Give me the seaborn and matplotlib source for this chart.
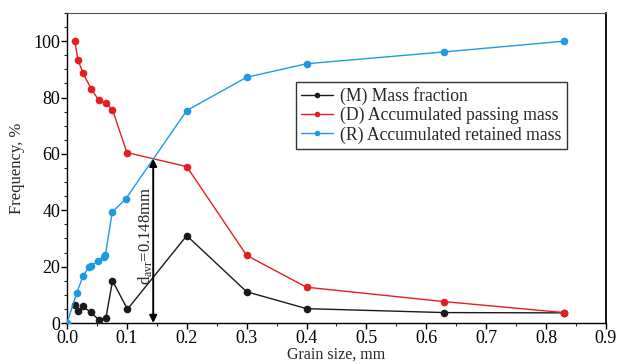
import matplotlib
matplotlib.use("Agg")
import matplotlib.pyplot as plt
import seaborn as sns
import pandas as pd
from matplotlib.ticker import MultipleLocator

# ---- data ----
x_mass = [0.0133, 0.018, 0.027, 0.0395, 0.053, 0.065, 0.076, 0.101, 0.2, 0.3, 0.4, 0.63, 0.83]
y_mass = [6.4, 4.3, 5.9, 3.8, 1.2, 1.8, 15.0, 4.9, 31.0, 11.1, 5.1, 3.7, 3.6]

x_pass = [0.0133, 0.018, 0.027, 0.0406, 0.053, 0.065, 0.076, 0.1, 0.2, 0.3, 0.4, 0.63, 0.83]
y_pass = [100.0, 93.5, 88.6, 83.0, 79.1, 78.0, 75.7, 60.5, 55.5, 24.0, 12.7, 7.6, 3.7]

x_ret = [0.0, 0.016, 0.027, 0.037, 0.040, 0.051, 0.062, 0.064, 0.0756, 0.098, 0.2, 0.3, 0.4, 0.63, 0.83]
y_ret = [0.0, 10.5, 16.8, 19.9, 20.4, 21.9, 23.5, 24.0, 39.4, 44.0, 75.4, 87.2, 92.0, 96.2, 100.0]

series_names = ["(M) Mass fraction", "(D) Accumulated passing mass", "(R) Accumulated retained mass"]
colors = ["#1c1a1a", "#e3201f", "#1d9be2"]
d_avr = 0.144  # arrow position (intersection of D and R)
d_top = 58.3
x_ticks = [0.0, 0.1, 0.2, 0.3, 0.4, 0.5, 0.6, 0.7, 0.8, 0.9]
y_ticks = [0, 20, 40, 60, 80, 100]

df = pd.concat([
    pd.DataFrame({"x": x_mass, "y": y_mass, "s": series_names[0]}),
    pd.DataFrame({"x": x_pass, "y": y_pass, "s": series_names[1]}),
    pd.DataFrame({"x": x_ret, "y": y_ret, "s": series_names[2]}),
], ignore_index=True)

sns.set_style("ticks")
plt.rcParams["font.family"] = ["Liberation Serif", "DejaVu Serif"]
plt.rcParams["mathtext.fontset"] = "custom"
plt.rcParams["mathtext.rm"] = "Liberation Serif"

fig = plt.figure(figsize=(6.18, 3.64), dpi=100)
ax = fig.add_axes([0.1084, 0.1126, 0.872, 0.8516])

sns.lineplot(data=df, x="x", y="y", hue="s", hue_order=series_names,
             palette=colors, marker="o", markersize=5.5, markeredgewidth=0,
             linewidth=1.0, estimator=None, sort=False, ax=ax, zorder=3)

ax.set_xlim(0, 0.9)
ax.set_ylim(0, 110)
ax.set_xticks(x_ticks)
ax.set_xticklabels([f"{v:.1f}" for v in x_ticks])
ax.set_yticks(y_ticks)
ax.xaxis.set_minor_locator(MultipleLocator(0.05))
ax.yaxis.set_minor_locator(MultipleLocator(5))
ax.tick_params(axis="both", which="major", labelsize=13, length=4, width=1,
               direction="out", pad=1, colors="black")
ax.tick_params(axis="both", which="minor", length=2.5, width=0.8, direction="out")
ax.tick_params(top=False, right=False, which="both")

for side in ["left", "bottom", "right"]:
    ax.spines[side].set_color("black")
    ax.spines[side].set_linewidth(1.0)
ax.spines["top"].set_color("#555555")
ax.spines["top"].set_linewidth(0.8)
ax.spines["right"].set_linewidth(1.3)

ax.set_xlabel("Grain size, mm", fontsize=11.5)
ax.xaxis.label.set_va("bottom")
ax.xaxis.set_label_coords(0.5, -0.128)
ax.set_ylabel("Frequency, %", fontsize=12, labelpad=6)

ax.annotate("", xy=(d_avr, 0), xytext=(d_avr, d_top),
            arrowprops=dict(arrowstyle="<|-|>", color="black", lw=1.4,
                            mutation_scale=11, shrinkA=0, shrinkB=0), zorder=4)
ax.text(0.131, 31, r"$\mathregular{d_{avr}}$=0.148mm", rotation=90,
        ha="center", va="center", fontsize=12)

leg = ax.legend(loc="upper left", bbox_to_anchor=(0.425, 0.779), borderaxespad=0,
                fontsize=12.7, frameon=True, fancybox=False, handlelength=1.8,
                handletextpad=0.4, labelspacing=0.12, borderpad=0.3, title=None)
leg.get_frame().set_edgecolor("black")
leg.get_frame().set_linewidth(1.0)
for h in leg.legend_handles:
    h.set_markersize(4)

fig.savefig("out.png", dpi=100)
